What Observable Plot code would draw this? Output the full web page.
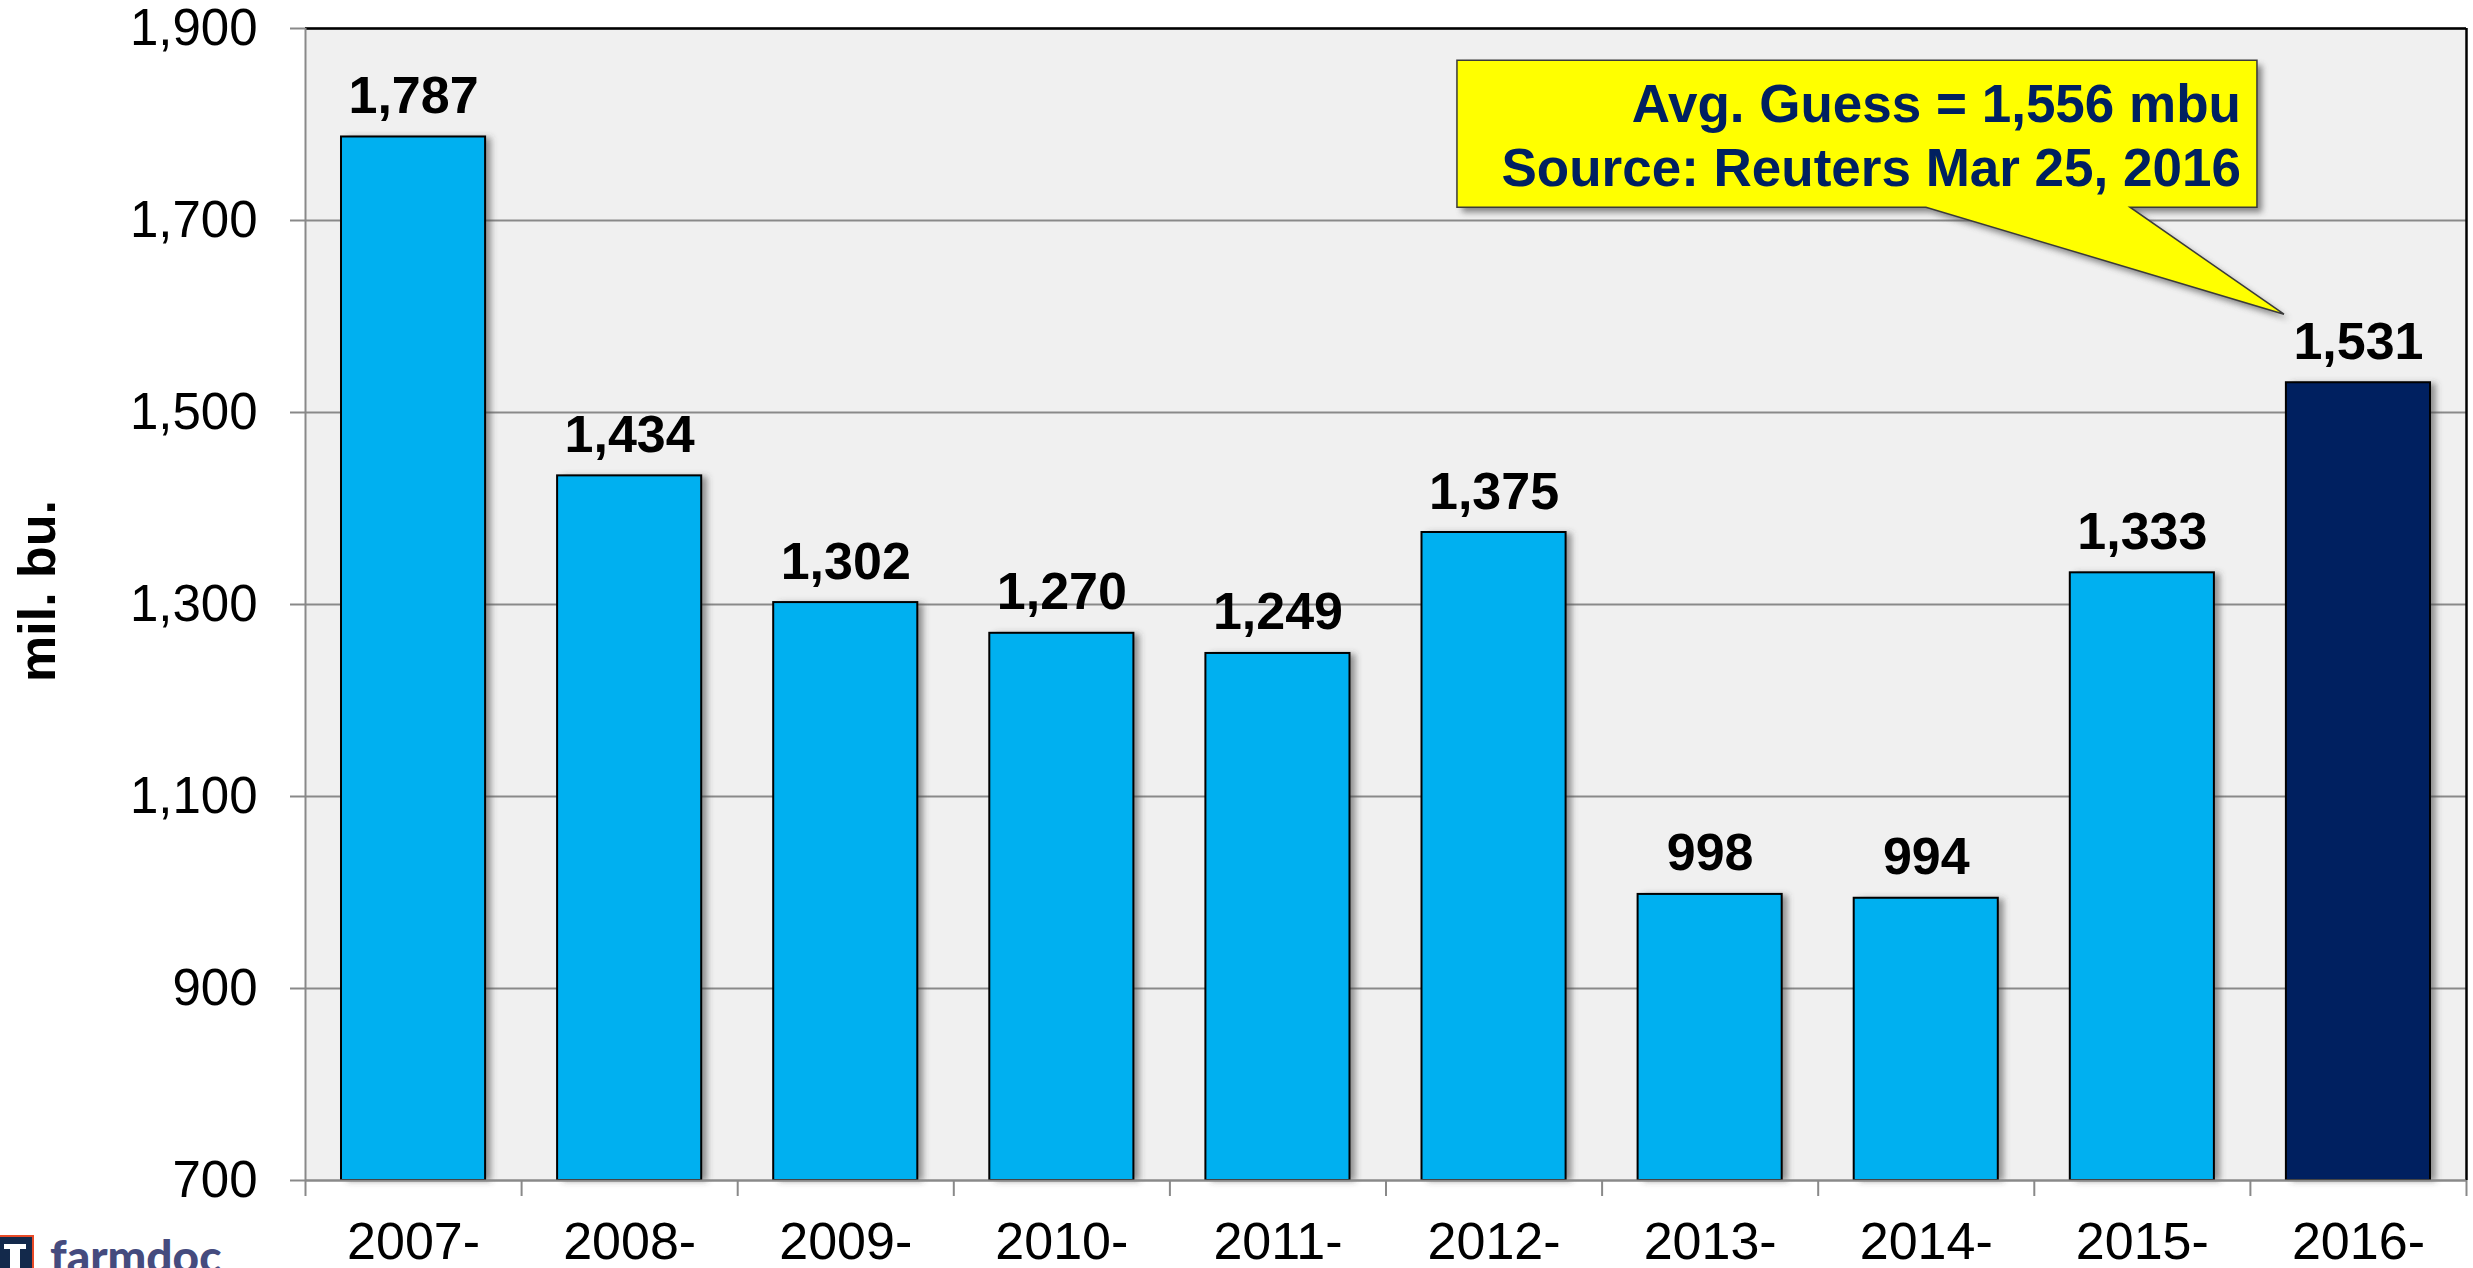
<!DOCTYPE html>
<html>
<head>
<meta charset="utf-8">
<script src="https://cdn.jsdelivr.net/npm/d3@7"></script>
<script src="https://cdn.jsdelivr.net/npm/@observablehq/plot@0.6"></script>
<style>
  html, body { margin: 0; padding: 0; background: #ffffff; overflow: hidden; }
  #wrap { position: relative; width: 2473px; height: 1268px; }
</style>
</head>
<body>
<div id="wrap"></div>
<script>
// ---- data ----
const categories = ["2007-", "2008-", "2009-", "2010-", "2011-", "2012-", "2013-", "2014-", "2015-", "2016-"];
const values = [1787, 1434, 1302, 1270, 1249, 1375, 998, 994, 1333, 1531];
const highlighted = [false, false, false, false, false, false, false, false, false, true];
const yTicks = [700, 900, 1100, 1300, 1500, 1700, 1900];
const calloutLines = ["Avg. Guess = 1,556 mbu", "Source: Reuters Mar 25, 2016"];
const yTitle = "mil. bu.";
const brand = "farmdoc";

const rows = categories.map((c, i) => ({c, i, v: values[i], hl: highlighted[i]}));
const n = categories.length;
const fmt = d3.format(",");
const font = "'Liberation Sans', Arial, Helvetica, sans-serif";

const plot = Plot.plot({
  width: 2473,
  height: 1268,
  marginLeft: 305,
  marginRight: 7,
  marginTop: 28,
  marginBottom: 88,
  style: {fontFamily: font, background: "transparent", overflow: "visible", color: "#000"},
  x: {domain: [0, n], axis: null, label: null},
  y: {domain: [yTicks[0], yTicks[yTicks.length - 1]], axis: null, label: null},
  marks: [
    Plot.frame({fill: "#f0f0f0", stroke: null}),
    Plot.ruleY(yTicks, {stroke: "#898989", strokeWidth: 2}),
    // bar shadows
    Plot.rectY(rows, {x1: "i", x2: d => d.i + 1, y1: yTicks[0], y2: "v", insetLeft: 36, insetRight: 36,
      fill: "#444", fillOpacity: 0.55, dx: 6, dy: 1}),
    // bars
    Plot.rectY(rows, {x1: "i", x2: d => d.i + 1, y1: yTicks[0], y2: "v", insetLeft: 36, insetRight: 36,
      fill: d => d.hl ? "#002060" : "#00B0F0", stroke: "#000", strokeWidth: 2}),
    // value labels
    Plot.text(rows, {x: d => d.i + 0.5, y: "v", text: d => fmt(d.v), lineAnchor: "bottom", dy: -24,
      fontSize: 52, fontWeight: "bold", fill: "#000"}),
    // frame edges
    Plot.ruleY([yTicks[yTicks.length - 1]], {stroke: "#000", strokeWidth: 2.5}),
    Plot.ruleX([n], {stroke: "#000", strokeWidth: 2.5}),
    Plot.ruleY([yTicks[0]], {stroke: "#898989", strokeWidth: 2}),
    Plot.ruleX([0], {stroke: "#898989", strokeWidth: 2}),
    // axes
    Plot.axisY(yTicks, {tickSize: 15, tickPadding: 33, tickFormat: fmt, fontSize: 51,
      stroke: "#898989", strokeWidth: 2, fill: "#000", label: null}),
    Plot.axisX(d3.range(n + 1), {tickSize: 16, tickFormat: () => "", stroke: "#898989", strokeWidth: 2, label: null}),
    Plot.axisX(d3.range(n).map(i => i + 0.5), {tickSize: 0, tickPadding: 42,
      tickFormat: t => categories[Math.floor(t)], fontSize: 52, fill: "#000", label: null})
  ]
});

document.getElementById("wrap").appendChild(plot);

const svg = d3.select(plot);
const defs = svg.insert("defs", ":first-child");
defs.append("filter").attr("id", "soft").attr("x", "-20%").attr("y", "-20%").attr("width", "140%").attr("height", "140%")
  .append("feGaussianBlur").attr("stdDeviation", 3);

// blur the bar shadows (first rect mark)
const rectGroups = plot.querySelectorAll('g[aria-label="rect"]');
if (rectGroups.length) rectGroups[0].setAttribute("filter", "url(#soft)");

// y title
svg.append("text")
  .attr("transform", "translate(55,591) rotate(-90)")
  .attr("text-anchor", "middle")
  .attr("font-family", font)
  .attr("font-weight", "bold")
  .attr("font-size", 52)
  .attr("fill", "#000")
  .text(yTitle);

// callout anchored on the last bar
const xs = plot.scale("x"), ys = plot.scale("y");
const ax = xs.apply(n - 0.5), ay = ys.apply(values[n - 1]);
const boxL = ax - 901, boxR = ax - 101, boxT = ay - 322, boxB = ay - 175;
const tipX = ax - 74, tipY = ay - 68;
const baseL = ax - 432, baseR = ax - 228;
const shape = `M${boxL},${boxT}H${boxR}V${boxB}H${baseR}L${tipX},${tipY}L${baseL},${boxB}H${boxL}Z`;
const g = svg.append("g");
g.append("path").attr("d", shape).attr("transform", "translate(5,5)")
  .attr("fill", "#555").attr("opacity", 0.7).attr("filter", "url(#soft)");
g.append("path").attr("d", shape).attr("fill", "#ffff00").attr("stroke", "#3a3a3a").attr("stroke-width", 1.5);
calloutLines.forEach((t, k) => {
  g.append("text")
    .attr("x", boxR - 16)
    .attr("y", boxT + 62 + k * 64)
    .attr("text-anchor", "end")
    .attr("font-family", font)
    .attr("font-weight", "bold")
    .attr("font-size", 53)
    .attr("fill", "#002060")
    .text(t);
});

// farmdoc logo (bottom-left)
const logo = svg.append("g");
logo.append("rect").attr("x", -2).attr("y", 1236).attr("width", 35).attr("height", 40)
  .attr("fill", "#13294b").attr("stroke", "#e84a27").attr("stroke-width", 2);
logo.append("rect").attr("x", 4).attr("y", 1244).attr("width", 22).attr("height", 5).attr("fill", "#fff");
logo.append("rect").attr("x", 10).attr("y", 1249).attr("width", 10).attr("height", 20).attr("fill", "#fff");
logo.append("text")
  .attr("x", 50).attr("y", 1273)
  .attr("text-anchor", "start")
  .attr("font-family", "Lato, 'Open Sans', sans-serif")
  .attr("font-weight", 900)
  .attr("font-size", 46)
  .attr("fill", "#454b7e")
  .text(brand);
</script>
</body>
</html>
